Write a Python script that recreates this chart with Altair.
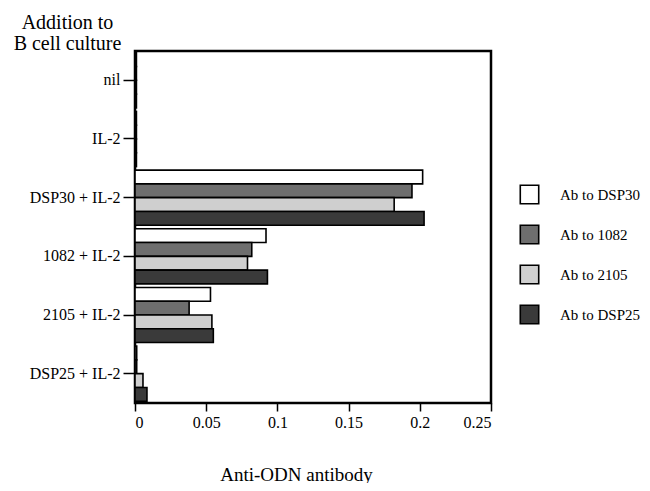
import altair as alt
import pandas as pd

categories = ["nil", "IL-2", "DSP30 + IL-2", "1082 + IL-2", "2105 + IL-2", "DSP25 + IL-2"]
series = ["Ab to DSP30", "Ab to 1082", "Ab to 2105", "Ab to DSP25"]
vals_dsp30 = [0.001, 0.001, 0.202, 0.092, 0.053, 0.0012]
vals_1082 = [0.001, 0.001, 0.1945, 0.082, 0.038, 0.0012]
vals_2105 = [0.001, 0.001, 0.182, 0.079, 0.054, 0.0056]
vals_dsp25 = [0.001, 0.001, 0.203, 0.093, 0.055, 0.0084]
fills = ["#ffffff", "#6e6e6e", "#cfcfcf", "#3a3a3a"]

rows = []
for s, vals in zip(series, [vals_dsp30, vals_1082, vals_2105, vals_dsp25]):
    for c, v in zip(categories, vals):
        rows.append({"cat": c, "series": s, "value": v})
df = pd.DataFrame(rows)

FONT = "Liberation Serif"

chart = alt.Chart(df).mark_bar(stroke="black", strokeWidth=1.6).encode(
    x=alt.X("value:Q",
            scale=alt.Scale(domain=[0, 0.25], nice=False, zero=True),
            axis=alt.Axis(values=[0, 0.05, 0.1, 0.15, 0.2, 0.25], format="~g", grid=False,
                          title="Anti-ODN antibody", titleX=161, titleY=77,
                          titleBaseline="alphabetic", titleAnchor=None,
                          titleFontSize=19, titleFontWeight="normal",
                          labelFontSize=16, tickSize=8, labelPadding=3,
                          domain=False)),
    y=alt.Y("cat:N", sort=categories,
            scale=alt.Scale(paddingInner=0.06, paddingOuter=0.03),
            axis=alt.Axis(title=["Addition to", "B cell culture"], titleAngle=0,
                          titleX=-68, titleY=-23, titleAlign="center",
                          titleBaseline="alphabetic", titleLineHeight=21,
                          titleFontSize=20, titleFontWeight="normal",
                          labelFontSize=16, tickSize=12, labelPadding=3,
                          domain=False)),
    yOffset=alt.YOffset("series:N", sort=series,
                        scale=alt.Scale(paddingInner=0, paddingOuter=0)),
    fill=alt.Fill("series:N", sort=series,
                  scale=alt.Scale(domain=series, range=fills),
                  legend=alt.Legend(title=None, orient="none", legendX=384, legendY=133,
                                    symbolType="square", symbolSize=340,
                                    symbolStrokeColor="black", symbolStrokeWidth=1.6,
                                    labelFontSize=15, labelOffset=20, rowPadding=15,
                                    padding=0)),
).properties(
    width=356, height=352,
    autosize=alt.AutoSizeParams(type="none"),
    padding={"left": 127, "top": 43, "right": 150, "bottom": 80},
).configure(
    font=FONT,
).configure_axis(
    labelColor="black", titleColor="black", tickColor="black", tickWidth=1.5,
    labelFont=FONT, titleFont=FONT,
).configure_legend(
    labelFont=FONT, labelColor="black",
).configure_view(
    stroke="black", strokeWidth=2.5,
)

chart.save("out.html", embed_options={"renderer": "svg", "actions": False})
